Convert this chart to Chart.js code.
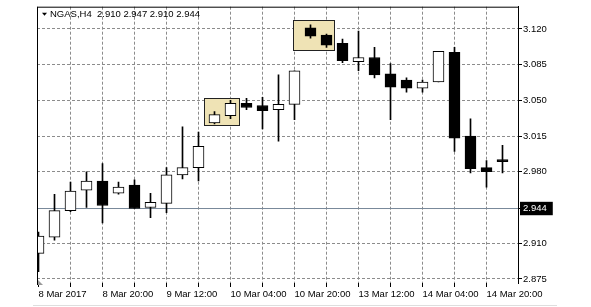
<!DOCTYPE html>
<html>
<head>
<meta charset="utf-8">
<title>NGAS,H4</title>
<script src="https://cdn.jsdelivr.net/npm/chart.js@4.4.1/dist/chart.umd.min.js"></script>
<style>
    html, body { margin: 0; padding: 0; background: #fff; }
    canvas { display: block; }
</style>
</head>
<body>
<canvas id="ngasChart" width="591" height="307"></canvas>
<script>
// NGAS H4 candles
const opens  = [2.900, 2.916, 2.942, 2.962, 2.971, 2.959, 2.967, 2.945, 2.949, 2.977,
                2.984, 3.028, 3.035, 3.047, 3.045, 3.041, 3.046, 3.121, 3.114, 3.106,
                3.088, 3.092, 3.076, 3.070, 3.062, 3.068, 3.097, 3.015, 2.984, 2.992];
const highs  = [2.921, 2.958, 2.970, 2.980, 2.988, 2.970, 2.972, 2.959, 2.984, 3.024,
                3.019, 3.039, 3.050, 3.052, 3.053, 3.075, 3.079, 3.124, 3.115, 3.110,
                3.118, 3.102, 3.086, 3.072, 3.070, 3.098, 3.102, 3.032, 2.991, 3.006];
const lows   = [2.882, 2.913, 2.941, 2.945, 2.930, 2.958, 2.944, 2.935, 2.940, 2.973,
                2.971, 3.027, 3.032, 3.041, 3.022, 3.010, 3.031, 3.111, 3.102, 3.087,
                3.079, 3.072, 3.031, 3.058, 3.058, 3.068, 3.000, 2.979, 2.965, 2.979];
const closes = [2.917, 2.942, 2.961, 2.971, 2.947, 2.965, 2.944, 2.950, 2.977, 2.984,
                3.005, 3.036, 3.047, 3.043, 3.040, 3.046, 3.079, 3.113, 3.104, 3.089,
                3.092, 3.075, 3.063, 3.062, 3.068, 3.098, 3.013, 2.983, 2.980, 2.990];

// bottom axis: grid every 2 bars, a label every 4
const gridBars  = [0, 2, 4, 6, 8, 10, 12, 14, 16, 18, 20, 22, 24, 26, 28];
const labelBars = [0, 4, 8, 12, 16, 20, 24, 28];
const labelText = ['8 Mar 2017', '8 Mar 20:00', '9 Mar 12:00', '10 Mar 04:00',
                   '10 Mar 20:00', '13 Mar 12:00', '14 Mar 04:00', '14 Mar 20:00'];

// right axis price levels, bid line
const priceTicks = [2.875, 2.910, 2.944, 2.980, 3.015, 3.050, 3.085, 3.120];
const bidPrice = 2.944;

// header: symbol, period, O H L C
const headerText = 'NGAS,H4  2.910 2.947 2.910 2.944';

// the two marked rectangles (bar from / to, price top / bottom)
const boxFrom   = [10.34, 15.93];
const boxTo     = [12.55, 18.49];
const boxTop    = [3.0528, 3.1292];
const boxBottom = [3.0254, 3.0989];

const xMin = -0.09375, xMax = 29.96875;
const yMin = 2.871, yMax = 3.1418;

const FONT = '"Liberation Sans", Arial, sans-serif';
const GRID = '#8c8c8c';

const isBull = i => closes[i] >= opens[i];
const sameLevel = (a, b) => Math.abs(a - b) < 1e-6;

// boxes go under the candles
const boxPlugin = {
    id: 'boxes',
    beforeDatasetsDraw(chart) {
        const { ctx, scales: { x, y } } = chart;
        ctx.save();
        for (let i = 0; i < boxFrom.length; i++) {
            const x0 = Math.round(x.getPixelForValue(boxFrom[i])) + 0.5;
            const x1 = Math.round(x.getPixelForValue(boxTo[i])) + 0.5;
            const y0 = Math.round(y.getPixelForValue(boxTop[i])) + 0.5;
            const y1 = Math.round(y.getPixelForValue(boxBottom[i])) + 0.5;
            ctx.fillStyle = '#efe3b5';
            ctx.fillRect(x0, y0, x1 - x0, y1 - y0);
            ctx.strokeStyle = '#222';
            ctx.lineWidth = 1;
            ctx.strokeRect(x0, y0, x1 - x0, y1 - y0);
        }
        ctx.restore();
    }
};

// frame, header and small extras
const framePlugin = {
    id: 'frame',
    afterDraw(chart) {
        const { ctx, chartArea: a } = chart;
        ctx.save();
        ctx.strokeStyle = '#000';
        ctx.lineWidth = 1;
        ctx.beginPath();
        ctx.moveTo(a.left + 0.5, a.top + 0.5);
        ctx.lineTo(a.right, a.top + 0.5);
        ctx.moveTo(a.left + 0.5, a.top);
        ctx.lineTo(a.left + 0.5, a.bottom + 2);
        ctx.stroke();

        // chart shift marker
        ctx.fillStyle = '#999';
        ctx.beginPath();
        ctx.moveTo(a.left + 1, a.bottom - 3);
        ctx.lineTo(a.left + 1, a.bottom + 2);
        ctx.lineTo(a.left + 6, a.bottom + 2);
        ctx.closePath();
        ctx.fill();

        // header
        ctx.fillStyle = '#000';
        ctx.beginPath();
        ctx.moveTo(a.left + 5, a.top + 6);
        ctx.lineTo(a.left + 10, a.top + 6);
        ctx.lineTo(a.left + 7.5, a.top + 9);
        ctx.closePath();
        ctx.fill();
        ctx.font = '9.5px ' + FONT;
        ctx.textBaseline = 'middle';
        ctx.fillText(headerText, a.left + 13, a.top + 8);

        // faint window edge at the bottom
        ctx.strokeStyle = '#dedede';
        ctx.beginPath();
        ctx.moveTo(33, 305.5);
        ctx.lineTo(557, 305.5);
        ctx.stroke();
        ctx.restore();
    }
};

new Chart(document.getElementById('ngasChart'), {
    data: {
        datasets: [
            {
                type: 'bar',
                label: 'body',
                data: opens.map((o, i) => ({ x: i, y: [o, closes[i]] })),
                backgroundColor: ctx => isBull(ctx.dataIndex) ? '#fff' : '#000',
                borderColor: '#000',
                borderWidth: 1,
                borderSkipped: false,
                barThickness: 11,
                grouped: false
            },
            {
                type: 'bar',
                label: 'wick',
                data: lows.map((l, i) => ({ x: i, y: [l, highs[i]] })),
                backgroundColor: '#000',
                borderWidth: 0,
                barThickness: 1,
                grouped: false
            },
            {
                type: 'line',
                label: 'bid',
                data: [{ x: xMin, y: bidPrice }, { x: xMax, y: bidPrice }],
                borderColor: '#778899',
                borderWidth: 1,
                pointRadius: 0
            }
        ]
    },
    options: {
        responsive: false,
        animation: false,
        events: [],
        layout: { padding: { left: 37, top: 3, right: 0, bottom: 0 } },
        plugins: {
            legend: { display: false },
            tooltip: { enabled: false }
        },
        scales: {
            x: {
                type: 'linear',
                min: xMin,
                max: xMax,
                offset: false,
                afterBuildTicks: s => { s.ticks = gridBars.map(v => ({ value: v })); },
                afterFit: s => { s.height = 24; },
                grid: {
                    offset: false,
                    color: ctx => ctx.tick && ctx.tick.value === 0 ? 'rgba(0,0,0,0)' : GRID,
                    borderDash: [3, 2],
                    tickColor: '#000',
                    tickLength: 4
                },
                border: { display: false, dash: [3, 2] },
                ticks: {
                    align: 'start',
                    autoSkip: false,
                    maxRotation: 0,
                    padding: 2,
                    color: '#000',
                    font: { family: FONT, size: 9.5 },
                    callback: v => {
                        const k = labelBars.indexOf(v);
                        return k >= 0 ? labelText[k] : '';
                    }
                }
            },
            y: {
                type: 'linear',
                position: 'right',
                min: yMin,
                max: yMax,
                afterBuildTicks: s => { s.ticks = priceTicks.map(v => ({ value: v })); },
                afterFit: s => { s.width = 73; },
                grid: {
                    color: ctx => ctx.tick && sameLevel(ctx.tick.value, bidPrice) ? 'rgba(0,0,0,0)' : GRID,
                    borderDash: [3, 2],
                    tickColor: '#000',
                    tickLength: 4
                },
                border: { display: true, color: '#000', width: 1, dash: [3, 2] },
                ticks: {
                    padding: 1,
                    font: { family: FONT, size: 9.5 },
                    color: ctx => ctx.tick && sameLevel(ctx.tick.value, bidPrice) ? '#fff' : '#000',
                    showLabelBackdrop: ctx => !!(ctx.tick && sameLevel(ctx.tick.value, bidPrice)),
                    backdropColor: '#000',
                    backdropPadding: { left: 3, right: 6, top: 1, bottom: 1 },
                    callback: v => v.toFixed(3)
                }
            }
        }
    },
    plugins: [boxPlugin, framePlugin]
});
</script>
</body>
</html>
